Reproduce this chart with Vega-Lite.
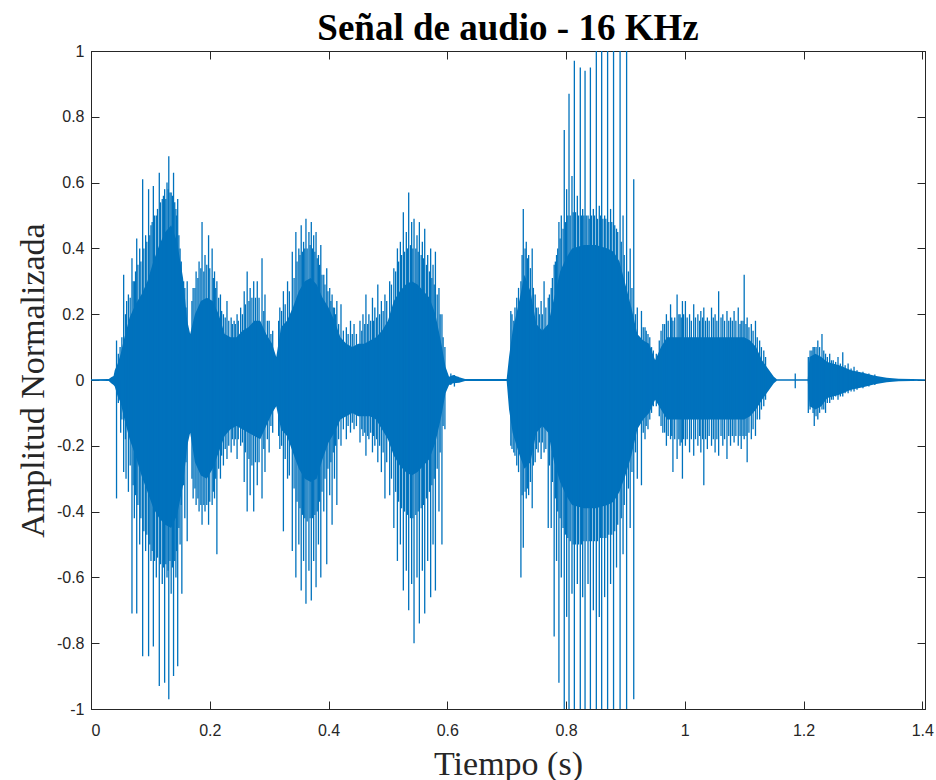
{
  "$schema": "https://vega.github.io/schema/vega-lite/v6.json",
  "width": 834,
  "height": 658,
  "autosize": {"type": "none"},
  "padding": {"left": 91, "top": 51, "right": 11, "bottom": 71},
  "background": "white",
  "title": {
    "text": "Señal de audio - 16 KHz",
    "font": "Liberation Serif",
    "fontSize": 37,
    "fontWeight": "bold",
    "color": "#000000",
    "anchor": "middle",
    "offset": -5
  },
  "config": {
    "view": {"stroke": "#262626", "strokeWidth": 1},
    "axis": {
      "grid": false,
      "domainColor": "#262626",
      "tickColor": "#262626",
      "labelColor": "#262626",
      "labelFont": "Liberation Sans",
      "labelFontSize": 16,
      "titleFont": "Liberation Serif",
      "titleFontSize": 34,
      "titleFontWeight": "normal",
      "titleColor": "#262626",
      "tickSize": -8
    }
  },
  "datasets": {
    "core": [
      {"t": 0, "lo": -0.002, "hi": 0.002},
      {"t": 0.03, "lo": -0.003, "hi": 0.003},
      {"t": 0.034, "lo": -0.01, "hi": 0.008},
      {"t": 0.038, "lo": -0.015, "hi": 0.012},
      {"t": 0.04, "lo": -0.02, "hi": 0.03},
      {"t": 0.045, "lo": -0.05, "hi": 0.05},
      {"t": 0.05, "lo": -0.07, "hi": 0.08},
      {"t": 0.055, "lo": -0.11, "hi": 0.12},
      {"t": 0.065, "lo": -0.18, "hi": 0.19},
      {"t": 0.075, "lo": -0.23, "hi": 0.23},
      {"t": 0.085, "lo": -0.29, "hi": 0.26},
      {"t": 0.095, "lo": -0.34, "hi": 0.3},
      {"t": 0.105, "lo": -0.39, "hi": 0.36},
      {"t": 0.115, "lo": -0.42, "hi": 0.41},
      {"t": 0.125, "lo": -0.44, "hi": 0.45},
      {"t": 0.135, "lo": -0.45, "hi": 0.47},
      {"t": 0.145, "lo": -0.41, "hi": 0.42},
      {"t": 0.155, "lo": -0.32, "hi": 0.31},
      {"t": 0.162, "lo": -0.2, "hi": 0.18},
      {"t": 0.167, "lo": -0.16, "hi": 0.14},
      {"t": 0.175, "lo": -0.25, "hi": 0.2},
      {"t": 0.185, "lo": -0.29, "hi": 0.24},
      {"t": 0.195, "lo": -0.3, "hi": 0.25},
      {"t": 0.205, "lo": -0.27, "hi": 0.24},
      {"t": 0.215, "lo": -0.22, "hi": 0.2},
      {"t": 0.225, "lo": -0.17, "hi": 0.14},
      {"t": 0.235, "lo": -0.15, "hi": 0.13},
      {"t": 0.245, "lo": -0.14, "hi": 0.13},
      {"t": 0.255, "lo": -0.15, "hi": 0.15},
      {"t": 0.265, "lo": -0.16, "hi": 0.16},
      {"t": 0.275, "lo": -0.17, "hi": 0.18},
      {"t": 0.285, "lo": -0.18, "hi": 0.18},
      {"t": 0.295, "lo": -0.14, "hi": 0.14},
      {"t": 0.305, "lo": -0.1, "hi": 0.11},
      {"t": 0.312, "lo": -0.08, "hi": 0.07},
      {"t": 0.32, "lo": -0.15, "hi": 0.16},
      {"t": 0.33, "lo": -0.17, "hi": 0.18},
      {"t": 0.34, "lo": -0.22, "hi": 0.22},
      {"t": 0.35, "lo": -0.27, "hi": 0.27},
      {"t": 0.36, "lo": -0.3, "hi": 0.3},
      {"t": 0.37, "lo": -0.31, "hi": 0.31},
      {"t": 0.38, "lo": -0.3, "hi": 0.29},
      {"t": 0.39, "lo": -0.24, "hi": 0.25},
      {"t": 0.4, "lo": -0.19, "hi": 0.22},
      {"t": 0.41, "lo": -0.16, "hi": 0.18},
      {"t": 0.42, "lo": -0.12, "hi": 0.13},
      {"t": 0.43, "lo": -0.11, "hi": 0.11},
      {"t": 0.44, "lo": -0.1, "hi": 0.1},
      {"t": 0.45, "lo": -0.11, "hi": 0.11},
      {"t": 0.46, "lo": -0.11, "hi": 0.11},
      {"t": 0.47, "lo": -0.11, "hi": 0.12},
      {"t": 0.48, "lo": -0.12, "hi": 0.13},
      {"t": 0.49, "lo": -0.15, "hi": 0.15},
      {"t": 0.5, "lo": -0.18, "hi": 0.18},
      {"t": 0.51, "lo": -0.23, "hi": 0.24},
      {"t": 0.52, "lo": -0.26, "hi": 0.27},
      {"t": 0.53, "lo": -0.28, "hi": 0.29},
      {"t": 0.54, "lo": -0.29, "hi": 0.3},
      {"t": 0.55, "lo": -0.28, "hi": 0.29},
      {"t": 0.56, "lo": -0.26, "hi": 0.27},
      {"t": 0.57, "lo": -0.24, "hi": 0.25},
      {"t": 0.58, "lo": -0.19, "hi": 0.2},
      {"t": 0.59, "lo": -0.11, "hi": 0.11},
      {"t": 0.597, "lo": -0.04, "hi": 0.04},
      {"t": 0.603, "lo": -0.015, "hi": 0.01},
      {"t": 0.61, "lo": -0.01, "hi": 0.015},
      {"t": 0.62, "lo": -0.008, "hi": 0.008},
      {"t": 0.63, "lo": -0.003, "hi": 0.003},
      {"t": 0.7, "lo": -0.003, "hi": 0.003},
      {"t": 0.704, "lo": -0.09, "hi": 0.07},
      {"t": 0.71, "lo": -0.16, "hi": 0.15},
      {"t": 0.72, "lo": -0.22, "hi": 0.23},
      {"t": 0.73, "lo": -0.27, "hi": 0.32},
      {"t": 0.74, "lo": -0.25, "hi": 0.27},
      {"t": 0.75, "lo": -0.16, "hi": 0.17},
      {"t": 0.76, "lo": -0.14, "hi": 0.15},
      {"t": 0.77, "lo": -0.16, "hi": 0.17},
      {"t": 0.78, "lo": -0.25, "hi": 0.25},
      {"t": 0.79, "lo": -0.31, "hi": 0.33},
      {"t": 0.8, "lo": -0.35, "hi": 0.37},
      {"t": 0.81, "lo": -0.38, "hi": 0.4},
      {"t": 0.83, "lo": -0.39, "hi": 0.41},
      {"t": 0.85, "lo": -0.39, "hi": 0.41},
      {"t": 0.87, "lo": -0.38, "hi": 0.4},
      {"t": 0.88, "lo": -0.37, "hi": 0.39},
      {"t": 0.89, "lo": -0.34, "hi": 0.36},
      {"t": 0.9, "lo": -0.29, "hi": 0.29},
      {"t": 0.91, "lo": -0.23, "hi": 0.22},
      {"t": 0.92, "lo": -0.15, "hi": 0.14},
      {"t": 0.93, "lo": -0.12, "hi": 0.12},
      {"t": 0.94, "lo": -0.1, "hi": 0.11},
      {"t": 0.95, "lo": -0.06, "hi": 0.06},
      {"t": 0.96, "lo": -0.09, "hi": 0.1},
      {"t": 0.97, "lo": -0.12, "hi": 0.13},
      {"t": 1.0, "lo": -0.12, "hi": 0.13},
      {"t": 1.04, "lo": -0.12, "hi": 0.13},
      {"t": 1.08, "lo": -0.12, "hi": 0.13},
      {"t": 1.1, "lo": -0.12, "hi": 0.13},
      {"t": 1.11, "lo": -0.11, "hi": 0.12},
      {"t": 1.12, "lo": -0.09, "hi": 0.1},
      {"t": 1.13, "lo": -0.06, "hi": 0.06},
      {"t": 1.14, "lo": -0.035, "hi": 0.035},
      {"t": 1.15, "lo": -0.01, "hi": 0.01},
      {"t": 1.155, "lo": -0.002, "hi": 0.002},
      {"t": 1.207, "lo": -0.002, "hi": 0.002},
      {"t": 1.21, "lo": -0.08, "hi": 0.07},
      {"t": 1.22, "lo": -0.09, "hi": 0.08},
      {"t": 1.23, "lo": -0.08, "hi": 0.07},
      {"t": 1.24, "lo": -0.055, "hi": 0.055},
      {"t": 1.26, "lo": -0.045, "hi": 0.045},
      {"t": 1.28, "lo": -0.03, "hi": 0.03},
      {"t": 1.3, "lo": -0.022, "hi": 0.022},
      {"t": 1.32, "lo": -0.013, "hi": 0.013},
      {"t": 1.34, "lo": -0.007, "hi": 0.007},
      {"t": 1.36, "lo": -0.004, "hi": 0.004},
      {"t": 1.4045, "lo": -0.002, "hi": 0.002}
    ],
    "spikes": [
      {"t": 0.043, "v": 0.12}, {"t": 0.043, "v": -0.36},
      {"t": 0.049, "v": 0.1}, {"t": 0.05, "v": -0.16},
      {"t": 0.055, "v": 0.32}, {"t": 0.055, "v": -0.28},
      {"t": 0.06, "v": 0.24}, {"t": 0.059, "v": -0.3},
      {"t": 0.063, "v": 0.26}, {"t": 0.063, "v": -0.34},
      {"t": 0.069, "v": 0.37}, {"t": 0.069, "v": -0.71},
      {"t": 0.073, "v": 0.3}, {"t": 0.073, "v": -0.42},
      {"t": 0.077, "v": 0.43}, {"t": 0.077, "v": -0.71},
      {"t": 0.082, "v": 0.4}, {"t": 0.082, "v": -0.5},
      {"t": 0.087, "v": 0.61}, {"t": 0.087, "v": -0.84},
      {"t": 0.092, "v": 0.44}, {"t": 0.092, "v": -0.52},
      {"t": 0.097, "v": 0.58}, {"t": 0.097, "v": -0.84},
      {"t": 0.101, "v": 0.47}, {"t": 0.101, "v": -0.55},
      {"t": 0.105, "v": 0.59}, {"t": 0.105, "v": -0.81},
      {"t": 0.11, "v": 0.5}, {"t": 0.11, "v": -0.6},
      {"t": 0.115, "v": 0.63}, {"t": 0.115, "v": -0.93},
      {"t": 0.12, "v": 0.55}, {"t": 0.12, "v": -0.62},
      {"t": 0.124, "v": 0.58}, {"t": 0.124, "v": -0.92},
      {"t": 0.128, "v": 0.6}, {"t": 0.128, "v": -0.6},
      {"t": 0.131, "v": 0.68}, {"t": 0.131, "v": -0.97},
      {"t": 0.135, "v": 0.57}, {"t": 0.135, "v": -0.65},
      {"t": 0.139, "v": 0.63}, {"t": 0.139, "v": -0.9},
      {"t": 0.143, "v": 0.52}, {"t": 0.143, "v": -0.6},
      {"t": 0.146, "v": 0.55}, {"t": 0.146, "v": -0.87},
      {"t": 0.15, "v": 0.4}, {"t": 0.15, "v": -0.5},
      {"t": 0.153, "v": 0.3}, {"t": 0.153, "v": -0.65},
      {"t": 0.158, "v": 0.28}, {"t": 0.158, "v": -0.42},
      {"t": 0.162, "v": 0.3}, {"t": 0.162, "v": -0.49},
      {"t": 0.172, "v": 0.28}, {"t": 0.172, "v": -0.36},
      {"t": 0.177, "v": 0.33}, {"t": 0.177, "v": -0.38},
      {"t": 0.182, "v": 0.36}, {"t": 0.182, "v": -0.4},
      {"t": 0.187, "v": 0.48}, {"t": 0.187, "v": -0.44},
      {"t": 0.192, "v": 0.38}, {"t": 0.192, "v": -0.4},
      {"t": 0.198, "v": 0.44}, {"t": 0.198, "v": -0.44},
      {"t": 0.204, "v": 0.4}, {"t": 0.204, "v": -0.38},
      {"t": 0.208, "v": 0.33}, {"t": 0.208, "v": -0.36},
      {"t": 0.212, "v": 0.3}, {"t": 0.212, "v": -0.53},
      {"t": 0.218, "v": 0.26}, {"t": 0.218, "v": -0.3},
      {"t": 0.223, "v": 0.2}, {"t": 0.223, "v": -0.26},
      {"t": 0.229, "v": 0.24}, {"t": 0.229, "v": -0.24},
      {"t": 0.236, "v": 0.19}, {"t": 0.236, "v": -0.22},
      {"t": 0.241, "v": 0.18}, {"t": 0.241, "v": -0.2},
      {"t": 0.246, "v": 0.2}, {"t": 0.246, "v": -0.24},
      {"t": 0.252, "v": 0.22}, {"t": 0.252, "v": -0.2},
      {"t": 0.258, "v": 0.27}, {"t": 0.258, "v": -0.31},
      {"t": 0.263, "v": 0.33}, {"t": 0.263, "v": -0.4},
      {"t": 0.268, "v": 0.28}, {"t": 0.268, "v": -0.35},
      {"t": 0.274, "v": 0.3}, {"t": 0.274, "v": -0.4},
      {"t": 0.28, "v": 0.3}, {"t": 0.28, "v": -0.32},
      {"t": 0.288, "v": 0.37}, {"t": 0.288, "v": -0.36},
      {"t": 0.293, "v": 0.26}, {"t": 0.293, "v": -0.28},
      {"t": 0.3, "v": 0.18}, {"t": 0.3, "v": -0.22},
      {"t": 0.306, "v": 0.15}, {"t": 0.306, "v": -0.16},
      {"t": 0.318, "v": 0.22}, {"t": 0.318, "v": -0.21},
      {"t": 0.324, "v": 0.27}, {"t": 0.324, "v": -0.46},
      {"t": 0.331, "v": 0.3}, {"t": 0.331, "v": -0.3},
      {"t": 0.339, "v": 0.39}, {"t": 0.339, "v": -0.52},
      {"t": 0.345, "v": 0.45}, {"t": 0.345, "v": -0.6},
      {"t": 0.35, "v": 0.4}, {"t": 0.35, "v": -0.5},
      {"t": 0.354, "v": 0.47}, {"t": 0.354, "v": -0.64},
      {"t": 0.358, "v": 0.42}, {"t": 0.358, "v": -0.55},
      {"t": 0.362, "v": 0.49}, {"t": 0.362, "v": -0.68},
      {"t": 0.367, "v": 0.45}, {"t": 0.367, "v": -0.58},
      {"t": 0.371, "v": 0.48}, {"t": 0.371, "v": -0.67},
      {"t": 0.375, "v": 0.44}, {"t": 0.375, "v": -0.55},
      {"t": 0.379, "v": 0.45}, {"t": 0.379, "v": -0.63},
      {"t": 0.383, "v": 0.38}, {"t": 0.383, "v": -0.5},
      {"t": 0.387, "v": 0.41}, {"t": 0.387, "v": -0.6},
      {"t": 0.392, "v": 0.32}, {"t": 0.392, "v": -0.4},
      {"t": 0.397, "v": 0.34}, {"t": 0.397, "v": -0.56},
      {"t": 0.402, "v": 0.28}, {"t": 0.402, "v": -0.35},
      {"t": 0.406, "v": 0.26}, {"t": 0.406, "v": -0.44},
      {"t": 0.41, "v": 0.22}, {"t": 0.41, "v": -0.3},
      {"t": 0.414, "v": 0.24}, {"t": 0.414, "v": -0.38},
      {"t": 0.421, "v": 0.23}, {"t": 0.421, "v": -0.2},
      {"t": 0.43, "v": 0.16}, {"t": 0.43, "v": -0.18},
      {"t": 0.437, "v": 0.18}, {"t": 0.437, "v": -0.16},
      {"t": 0.443, "v": 0.17}, {"t": 0.443, "v": -0.15},
      {"t": 0.453, "v": 0.18}, {"t": 0.453, "v": -0.19},
      {"t": 0.458, "v": 0.2}, {"t": 0.458, "v": -0.17},
      {"t": 0.463, "v": 0.26}, {"t": 0.463, "v": -0.23},
      {"t": 0.468, "v": 0.2}, {"t": 0.468, "v": -0.18},
      {"t": 0.474, "v": 0.25}, {"t": 0.474, "v": -0.22},
      {"t": 0.478, "v": 0.22}, {"t": 0.478, "v": -0.2},
      {"t": 0.483, "v": 0.29}, {"t": 0.483, "v": -0.25},
      {"t": 0.489, "v": 0.24}, {"t": 0.489, "v": -0.28},
      {"t": 0.495, "v": 0.26}, {"t": 0.495, "v": -0.36},
      {"t": 0.503, "v": 0.3}, {"t": 0.503, "v": -0.35},
      {"t": 0.51, "v": 0.34}, {"t": 0.51, "v": -0.45},
      {"t": 0.516, "v": 0.4}, {"t": 0.516, "v": -0.55},
      {"t": 0.521, "v": 0.42}, {"t": 0.521, "v": -0.5},
      {"t": 0.526, "v": 0.51}, {"t": 0.526, "v": -0.64},
      {"t": 0.531, "v": 0.45}, {"t": 0.531, "v": -0.58},
      {"t": 0.535, "v": 0.57}, {"t": 0.535, "v": -0.7},
      {"t": 0.54, "v": 0.48}, {"t": 0.54, "v": -0.62},
      {"t": 0.544, "v": 0.49}, {"t": 0.544, "v": -0.8},
      {"t": 0.549, "v": 0.44}, {"t": 0.549, "v": -0.6},
      {"t": 0.553, "v": 0.48}, {"t": 0.553, "v": -0.74},
      {"t": 0.558, "v": 0.42}, {"t": 0.558, "v": -0.58},
      {"t": 0.562, "v": 0.46}, {"t": 0.562, "v": -0.71},
      {"t": 0.567, "v": 0.38}, {"t": 0.567, "v": -0.55},
      {"t": 0.572, "v": 0.4}, {"t": 0.572, "v": -0.66},
      {"t": 0.576, "v": 0.35}, {"t": 0.576, "v": -0.5},
      {"t": 0.58, "v": 0.39}, {"t": 0.58, "v": -0.64},
      {"t": 0.586, "v": 0.28}, {"t": 0.586, "v": -0.4},
      {"t": 0.591, "v": 0.2}, {"t": 0.591, "v": -0.5},
      {"t": 0.596, "v": 0.1}, {"t": 0.596, "v": -0.15},
      {"t": 0.606, "v": 0.02}, {"t": 0.606, "v": -0.015},
      {"t": 0.612, "v": 0.015}, {"t": 0.612, "v": -0.02},
      {"t": 0.618, "v": 0.01},
      {"t": 0.707, "v": 0.21}, {"t": 0.707, "v": -0.2},
      {"t": 0.712, "v": 0.18}, {"t": 0.712, "v": -0.22},
      {"t": 0.717, "v": 0.25}, {"t": 0.717, "v": -0.26},
      {"t": 0.724, "v": 0.3}, {"t": 0.724, "v": -0.6},
      {"t": 0.728, "v": 0.52}, {"t": 0.728, "v": -0.51},
      {"t": 0.733, "v": 0.42}, {"t": 0.733, "v": -0.36},
      {"t": 0.737, "v": 0.38}, {"t": 0.737, "v": -0.35},
      {"t": 0.743, "v": 0.4}, {"t": 0.743, "v": -0.39},
      {"t": 0.748, "v": 0.26}, {"t": 0.748, "v": -0.25},
      {"t": 0.753, "v": 0.22}, {"t": 0.753, "v": -0.22},
      {"t": 0.758, "v": 0.24}, {"t": 0.758, "v": -0.24},
      {"t": 0.763, "v": 0.3}, {"t": 0.763, "v": -0.22},
      {"t": 0.77, "v": 0.25}, {"t": 0.77, "v": -0.45},
      {"t": 0.775, "v": 0.28}, {"t": 0.775, "v": -0.45},
      {"t": 0.78, "v": 0.35}, {"t": 0.78, "v": -0.78},
      {"t": 0.784, "v": 0.38}, {"t": 0.784, "v": -0.55},
      {"t": 0.788, "v": 0.48}, {"t": 0.788, "v": -0.92},
      {"t": 0.792, "v": 0.5}, {"t": 0.792, "v": -0.6},
      {"t": 0.797, "v": 0.76}, {"t": 0.797, "v": -1},
      {"t": 0.801, "v": 0.58}, {"t": 0.801, "v": -0.72},
      {"t": 0.805, "v": 0.87}, {"t": 0.805, "v": -1},
      {"t": 0.81, "v": 0.62}, {"t": 0.81, "v": -0.65},
      {"t": 0.814, "v": 0.97}, {"t": 0.814, "v": -1},
      {"t": 0.819, "v": 0.56}, {"t": 0.819, "v": -0.62},
      {"t": 0.824, "v": 0.95}, {"t": 0.824, "v": -1},
      {"t": 0.828, "v": 0.52}, {"t": 0.828, "v": -0.66},
      {"t": 0.832, "v": 0.94}, {"t": 0.832, "v": -1},
      {"t": 0.837, "v": 0.5}, {"t": 0.837, "v": -0.62},
      {"t": 0.841, "v": 0.95}, {"t": 0.841, "v": -1},
      {"t": 0.846, "v": 0.52}, {"t": 0.846, "v": -0.7},
      {"t": 0.851, "v": 1}, {"t": 0.851, "v": -1},
      {"t": 0.856, "v": 0.53}, {"t": 0.856, "v": -0.72},
      {"t": 0.86, "v": 1}, {"t": 0.86, "v": -1},
      {"t": 0.865, "v": 0.5}, {"t": 0.865, "v": -0.66},
      {"t": 0.87, "v": 1}, {"t": 0.87, "v": -1},
      {"t": 0.875, "v": 0.52}, {"t": 0.875, "v": -0.62},
      {"t": 0.88, "v": 1}, {"t": 0.88, "v": -1},
      {"t": 0.885, "v": 0.46}, {"t": 0.885, "v": -0.57},
      {"t": 0.891, "v": 1}, {"t": 0.891, "v": -1},
      {"t": 0.896, "v": 0.5}, {"t": 0.896, "v": -0.53},
      {"t": 0.902, "v": 1}, {"t": 0.902, "v": -1},
      {"t": 0.908, "v": 0.4}, {"t": 0.908, "v": -0.45},
      {"t": 0.914, "v": 0.61}, {"t": 0.914, "v": -0.97},
      {"t": 0.92, "v": 0.22}, {"t": 0.92, "v": -0.3},
      {"t": 0.927, "v": 0.21}, {"t": 0.927, "v": -0.32},
      {"t": 0.933, "v": 0.16}, {"t": 0.933, "v": -0.18},
      {"t": 0.938, "v": 0.14}, {"t": 0.938, "v": -0.15},
      {"t": 0.944, "v": 0.1}, {"t": 0.944, "v": -0.1},
      {"t": 0.963, "v": 0.17}, {"t": 0.963, "v": -0.16},
      {"t": 0.969, "v": 0.2}, {"t": 0.969, "v": -0.2},
      {"t": 0.976, "v": 0.23}, {"t": 0.976, "v": -0.18},
      {"t": 0.98, "v": 0.18}, {"t": 0.98, "v": -0.28},
      {"t": 0.987, "v": 0.26}, {"t": 0.987, "v": -0.24},
      {"t": 0.992, "v": 0.2}, {"t": 0.992, "v": -0.2},
      {"t": 0.996, "v": 0.24}, {"t": 0.996, "v": -0.3},
      {"t": 1.001, "v": 0.24}, {"t": 1.001, "v": -0.2},
      {"t": 1.008, "v": 0.2}, {"t": 1.008, "v": -0.22},
      {"t": 1.015, "v": 0.23}, {"t": 1.015, "v": -0.23},
      {"t": 1.022, "v": 0.2}, {"t": 1.022, "v": -0.2},
      {"t": 1.027, "v": 0.21}, {"t": 1.027, "v": -0.22},
      {"t": 1.032, "v": 0.22}, {"t": 1.032, "v": -0.32},
      {"t": 1.038, "v": 0.19}, {"t": 1.038, "v": -0.21},
      {"t": 1.045, "v": 0.22}, {"t": 1.045, "v": -0.2},
      {"t": 1.051, "v": 0.2}, {"t": 1.051, "v": -0.22},
      {"t": 1.057, "v": 0.27}, {"t": 1.057, "v": -0.23},
      {"t": 1.064, "v": 0.2}, {"t": 1.064, "v": -0.2},
      {"t": 1.071, "v": 0.21}, {"t": 1.071, "v": -0.24},
      {"t": 1.077, "v": 0.19}, {"t": 1.077, "v": -0.2},
      {"t": 1.083, "v": 0.21}, {"t": 1.083, "v": -0.19},
      {"t": 1.09, "v": 0.22}, {"t": 1.09, "v": -0.2},
      {"t": 1.095, "v": 0.18}, {"t": 1.095, "v": -0.21},
      {"t": 1.1, "v": 0.32}, {"t": 1.1, "v": -0.18},
      {"t": 1.105, "v": 0.19}, {"t": 1.105, "v": -0.25},
      {"t": 1.112, "v": 0.17}, {"t": 1.112, "v": -0.18},
      {"t": 1.119, "v": 0.18}, {"t": 1.119, "v": -0.17},
      {"t": 1.126, "v": 0.12}, {"t": 1.126, "v": -0.12},
      {"t": 1.133, "v": 0.09}, {"t": 1.133, "v": -0.08},
      {"t": 1.186, "v": 0.02}, {"t": 1.186, "v": -0.025},
      {"t": 1.208, "v": 0.07}, {"t": 1.208, "v": -0.1},
      {"t": 1.214, "v": 0.09}, {"t": 1.214, "v": -0.08},
      {"t": 1.218, "v": 0.1}, {"t": 1.218, "v": -0.14},
      {"t": 1.224, "v": 0.12}, {"t": 1.224, "v": -0.12},
      {"t": 1.231, "v": 0.14}, {"t": 1.231, "v": -0.09},
      {"t": 1.237, "v": 0.08}, {"t": 1.237, "v": -0.1},
      {"t": 1.244, "v": 0.08}, {"t": 1.244, "v": -0.07},
      {"t": 1.25, "v": 0.06}, {"t": 1.25, "v": -0.06},
      {"t": 1.258, "v": 0.07}, {"t": 1.258, "v": -0.06},
      {"t": 1.266, "v": 0.084}, {"t": 1.266, "v": -0.05},
      {"t": 1.275, "v": 0.05}, {"t": 1.275, "v": -0.04},
      {"t": 1.285, "v": 0.04}, {"t": 1.285, "v": -0.035},
      {"t": 0.046, "v": 0.08}, {"t": 0.046, "v": -0.07},
      {"t": 0.052, "v": 0.13}, {"t": 0.052, "v": -0.12},
      {"t": 0.058, "v": 0.2}, {"t": 0.058, "v": -0.18},
      {"t": 0.066, "v": 0.25}, {"t": 0.066, "v": -0.26},
      {"t": 0.071, "v": 0.3}, {"t": 0.071, "v": -0.32},
      {"t": 0.075, "v": 0.33}, {"t": 0.075, "v": -0.35},
      {"t": 0.079, "v": 0.35}, {"t": 0.079, "v": -0.38},
      {"t": 0.084, "v": 0.36}, {"t": 0.084, "v": -0.42},
      {"t": 0.089, "v": 0.4}, {"t": 0.089, "v": -0.46},
      {"t": 0.094, "v": 0.42}, {"t": 0.094, "v": -0.47},
      {"t": 0.099, "v": 0.44}, {"t": 0.099, "v": -0.5},
      {"t": 0.103, "v": 0.48}, {"t": 0.103, "v": -0.52},
      {"t": 0.107, "v": 0.5}, {"t": 0.107, "v": -0.55},
      {"t": 0.112, "v": 0.52}, {"t": 0.112, "v": -0.54},
      {"t": 0.117, "v": 0.54}, {"t": 0.117, "v": -0.56},
      {"t": 0.122, "v": 0.56}, {"t": 0.122, "v": -0.57},
      {"t": 0.126, "v": 0.55}, {"t": 0.126, "v": -0.56},
      {"t": 0.13, "v": 0.58}, {"t": 0.13, "v": -0.58},
      {"t": 0.133, "v": 0.57}, {"t": 0.133, "v": -0.55},
      {"t": 0.137, "v": 0.56}, {"t": 0.137, "v": -0.57},
      {"t": 0.141, "v": 0.54}, {"t": 0.141, "v": -0.55},
      {"t": 0.144, "v": 0.5}, {"t": 0.144, "v": -0.52},
      {"t": 0.148, "v": 0.44}, {"t": 0.148, "v": -0.45},
      {"t": 0.152, "v": 0.36}, {"t": 0.152, "v": -0.38},
      {"t": 0.156, "v": 0.3}, {"t": 0.156, "v": -0.32},
      {"t": 0.16, "v": 0.22}, {"t": 0.16, "v": -0.25},
      {"t": 0.17, "v": 0.24}, {"t": 0.17, "v": -0.3},
      {"t": 0.175, "v": 0.28}, {"t": 0.175, "v": -0.33},
      {"t": 0.18, "v": 0.31}, {"t": 0.18, "v": -0.36},
      {"t": 0.185, "v": 0.34}, {"t": 0.185, "v": -0.38},
      {"t": 0.19, "v": 0.33}, {"t": 0.19, "v": -0.38},
      {"t": 0.195, "v": 0.35}, {"t": 0.195, "v": -0.38},
      {"t": 0.2, "v": 0.34}, {"t": 0.2, "v": -0.37},
      {"t": 0.206, "v": 0.31}, {"t": 0.206, "v": -0.34},
      {"t": 0.21, "v": 0.28}, {"t": 0.21, "v": -0.3},
      {"t": 0.215, "v": 0.25}, {"t": 0.215, "v": -0.27},
      {"t": 0.22, "v": 0.21}, {"t": 0.22, "v": -0.23},
      {"t": 0.226, "v": 0.19}, {"t": 0.226, "v": -0.21},
      {"t": 0.232, "v": 0.18}, {"t": 0.232, "v": -0.2},
      {"t": 0.238, "v": 0.17}, {"t": 0.238, "v": -0.18},
      {"t": 0.243, "v": 0.17}, {"t": 0.243, "v": -0.18},
      {"t": 0.248, "v": 0.18}, {"t": 0.248, "v": -0.18},
      {"t": 0.255, "v": 0.2}, {"t": 0.255, "v": -0.19},
      {"t": 0.26, "v": 0.23}, {"t": 0.26, "v": -0.22},
      {"t": 0.266, "v": 0.24}, {"t": 0.266, "v": -0.24},
      {"t": 0.271, "v": 0.25}, {"t": 0.271, "v": -0.26},
      {"t": 0.277, "v": 0.25}, {"t": 0.277, "v": -0.25},
      {"t": 0.283, "v": 0.25}, {"t": 0.283, "v": -0.25},
      {"t": 0.291, "v": 0.21}, {"t": 0.291, "v": -0.21},
      {"t": 0.297, "v": 0.18}, {"t": 0.297, "v": -0.18},
      {"t": 0.303, "v": 0.14}, {"t": 0.303, "v": -0.14},
      {"t": 0.316, "v": 0.18}, {"t": 0.316, "v": -0.17},
      {"t": 0.321, "v": 0.21}, {"t": 0.321, "v": -0.2},
      {"t": 0.327, "v": 0.23}, {"t": 0.327, "v": -0.24},
      {"t": 0.334, "v": 0.27}, {"t": 0.334, "v": -0.29},
      {"t": 0.342, "v": 0.31}, {"t": 0.342, "v": -0.33},
      {"t": 0.347, "v": 0.36}, {"t": 0.347, "v": -0.37},
      {"t": 0.352, "v": 0.38}, {"t": 0.352, "v": -0.39},
      {"t": 0.356, "v": 0.39}, {"t": 0.356, "v": -0.41},
      {"t": 0.36, "v": 0.4}, {"t": 0.36, "v": -0.42},
      {"t": 0.364, "v": 0.4}, {"t": 0.364, "v": -0.43},
      {"t": 0.369, "v": 0.41}, {"t": 0.369, "v": -0.42},
      {"t": 0.373, "v": 0.4}, {"t": 0.373, "v": -0.42},
      {"t": 0.377, "v": 0.39}, {"t": 0.377, "v": -0.41},
      {"t": 0.381, "v": 0.37}, {"t": 0.381, "v": -0.4},
      {"t": 0.385, "v": 0.35}, {"t": 0.385, "v": -0.37},
      {"t": 0.389, "v": 0.32}, {"t": 0.389, "v": -0.34},
      {"t": 0.394, "v": 0.29}, {"t": 0.394, "v": -0.3},
      {"t": 0.399, "v": 0.27}, {"t": 0.399, "v": -0.27},
      {"t": 0.404, "v": 0.24}, {"t": 0.404, "v": -0.25},
      {"t": 0.408, "v": 0.22}, {"t": 0.408, "v": -0.22},
      {"t": 0.412, "v": 0.2}, {"t": 0.412, "v": -0.2},
      {"t": 0.417, "v": 0.17}, {"t": 0.417, "v": -0.18},
      {"t": 0.425, "v": 0.15}, {"t": 0.425, "v": -0.15},
      {"t": 0.433, "v": 0.14}, {"t": 0.433, "v": -0.14},
      {"t": 0.44, "v": 0.14}, {"t": 0.44, "v": -0.13},
      {"t": 0.447, "v": 0.14}, {"t": 0.447, "v": -0.14},
      {"t": 0.456, "v": 0.15}, {"t": 0.456, "v": -0.15},
      {"t": 0.461, "v": 0.17}, {"t": 0.461, "v": -0.16},
      {"t": 0.466, "v": 0.17}, {"t": 0.466, "v": -0.17},
      {"t": 0.471, "v": 0.18}, {"t": 0.471, "v": -0.16},
      {"t": 0.476, "v": 0.18}, {"t": 0.476, "v": -0.17},
      {"t": 0.481, "v": 0.19}, {"t": 0.481, "v": -0.18},
      {"t": 0.486, "v": 0.2}, {"t": 0.486, "v": -0.2},
      {"t": 0.492, "v": 0.21}, {"t": 0.492, "v": -0.22},
      {"t": 0.498, "v": 0.24}, {"t": 0.498, "v": -0.25},
      {"t": 0.506, "v": 0.29}, {"t": 0.506, "v": -0.3},
      {"t": 0.513, "v": 0.33}, {"t": 0.513, "v": -0.34},
      {"t": 0.518, "v": 0.36}, {"t": 0.518, "v": -0.37},
      {"t": 0.523, "v": 0.38}, {"t": 0.523, "v": -0.39},
      {"t": 0.528, "v": 0.39}, {"t": 0.528, "v": -0.4},
      {"t": 0.533, "v": 0.4}, {"t": 0.533, "v": -0.41},
      {"t": 0.538, "v": 0.41}, {"t": 0.538, "v": -0.42},
      {"t": 0.542, "v": 0.4}, {"t": 0.542, "v": -0.42},
      {"t": 0.547, "v": 0.4}, {"t": 0.547, "v": -0.41},
      {"t": 0.551, "v": 0.39}, {"t": 0.551, "v": -0.4},
      {"t": 0.556, "v": 0.38}, {"t": 0.556, "v": -0.39},
      {"t": 0.56, "v": 0.37}, {"t": 0.56, "v": -0.38},
      {"t": 0.565, "v": 0.35}, {"t": 0.565, "v": -0.36},
      {"t": 0.57, "v": 0.33}, {"t": 0.57, "v": -0.34},
      {"t": 0.574, "v": 0.31}, {"t": 0.574, "v": -0.32},
      {"t": 0.578, "v": 0.29}, {"t": 0.578, "v": -0.3},
      {"t": 0.583, "v": 0.26}, {"t": 0.583, "v": -0.27},
      {"t": 0.588, "v": 0.2}, {"t": 0.588, "v": -0.22},
      {"t": 0.593, "v": 0.13}, {"t": 0.593, "v": -0.14},
      {"t": 0.709, "v": 0.2}, {"t": 0.709, "v": -0.21},
      {"t": 0.714, "v": 0.22}, {"t": 0.714, "v": -0.23},
      {"t": 0.72, "v": 0.28}, {"t": 0.72, "v": -0.28},
      {"t": 0.726, "v": 0.38}, {"t": 0.726, "v": -0.35},
      {"t": 0.731, "v": 0.4}, {"t": 0.731, "v": -0.34},
      {"t": 0.735, "v": 0.37}, {"t": 0.735, "v": -0.33},
      {"t": 0.74, "v": 0.34}, {"t": 0.74, "v": -0.31},
      {"t": 0.745, "v": 0.28}, {"t": 0.745, "v": -0.26},
      {"t": 0.75, "v": 0.22}, {"t": 0.75, "v": -0.21},
      {"t": 0.755, "v": 0.2}, {"t": 0.755, "v": -0.19},
      {"t": 0.76, "v": 0.2}, {"t": 0.76, "v": -0.19},
      {"t": 0.766, "v": 0.22}, {"t": 0.766, "v": -0.21},
      {"t": 0.772, "v": 0.26}, {"t": 0.772, "v": -0.26},
      {"t": 0.777, "v": 0.31}, {"t": 0.777, "v": -0.31},
      {"t": 0.782, "v": 0.36}, {"t": 0.782, "v": -0.36},
      {"t": 0.786, "v": 0.4}, {"t": 0.786, "v": -0.4},
      {"t": 0.79, "v": 0.43}, {"t": 0.79, "v": -0.42},
      {"t": 0.795, "v": 0.46}, {"t": 0.795, "v": -0.45},
      {"t": 0.799, "v": 0.48}, {"t": 0.799, "v": -0.47},
      {"t": 0.803, "v": 0.5}, {"t": 0.803, "v": -0.48},
      {"t": 0.807, "v": 0.5}, {"t": 0.807, "v": -0.49},
      {"t": 0.812, "v": 0.51}, {"t": 0.812, "v": -0.5},
      {"t": 0.816, "v": 0.51}, {"t": 0.816, "v": -0.5},
      {"t": 0.821, "v": 0.5}, {"t": 0.821, "v": -0.5},
      {"t": 0.826, "v": 0.5}, {"t": 0.826, "v": -0.5},
      {"t": 0.83, "v": 0.5}, {"t": 0.83, "v": -0.49},
      {"t": 0.834, "v": 0.5}, {"t": 0.834, "v": -0.49},
      {"t": 0.839, "v": 0.49}, {"t": 0.839, "v": -0.49},
      {"t": 0.843, "v": 0.5}, {"t": 0.843, "v": -0.49},
      {"t": 0.848, "v": 0.5}, {"t": 0.848, "v": -0.49},
      {"t": 0.853, "v": 0.49}, {"t": 0.853, "v": -0.49},
      {"t": 0.858, "v": 0.5}, {"t": 0.858, "v": -0.48},
      {"t": 0.862, "v": 0.49}, {"t": 0.862, "v": -0.48},
      {"t": 0.867, "v": 0.49}, {"t": 0.867, "v": -0.48},
      {"t": 0.872, "v": 0.48}, {"t": 0.872, "v": -0.47},
      {"t": 0.877, "v": 0.48}, {"t": 0.877, "v": -0.47},
      {"t": 0.882, "v": 0.47}, {"t": 0.882, "v": -0.46},
      {"t": 0.887, "v": 0.45}, {"t": 0.887, "v": -0.44},
      {"t": 0.893, "v": 0.42}, {"t": 0.893, "v": -0.42},
      {"t": 0.898, "v": 0.38}, {"t": 0.898, "v": -0.38},
      {"t": 0.905, "v": 0.33}, {"t": 0.905, "v": -0.33},
      {"t": 0.911, "v": 0.28}, {"t": 0.911, "v": -0.28},
      {"t": 0.917, "v": 0.2}, {"t": 0.917, "v": -0.22},
      {"t": 0.93, "v": 0.16}, {"t": 0.93, "v": -0.16},
      {"t": 0.935, "v": 0.15}, {"t": 0.935, "v": -0.14},
      {"t": 0.941, "v": 0.13}, {"t": 0.941, "v": -0.12},
      {"t": 0.947, "v": 0.09}, {"t": 0.947, "v": -0.08},
      {"t": 0.952, "v": 0.08}, {"t": 0.952, "v": -0.08},
      {"t": 0.957, "v": 0.12}, {"t": 0.957, "v": -0.11},
      {"t": 0.96, "v": 0.15}, {"t": 0.96, "v": -0.14},
      {"t": 0.966, "v": 0.17}, {"t": 0.966, "v": -0.16},
      {"t": 0.972, "v": 0.18}, {"t": 0.972, "v": -0.17},
      {"t": 0.978, "v": 0.19}, {"t": 0.978, "v": -0.17},
      {"t": 0.983, "v": 0.19}, {"t": 0.983, "v": -0.18},
      {"t": 0.99, "v": 0.2}, {"t": 0.99, "v": -0.18},
      {"t": 0.994, "v": 0.19}, {"t": 0.994, "v": -0.19},
      {"t": 0.998, "v": 0.2}, {"t": 0.998, "v": -0.18},
      {"t": 1.004, "v": 0.19}, {"t": 1.004, "v": -0.18},
      {"t": 1.011, "v": 0.18}, {"t": 1.011, "v": -0.18},
      {"t": 1.018, "v": 0.19}, {"t": 1.018, "v": -0.18},
      {"t": 1.025, "v": 0.18}, {"t": 1.025, "v": -0.17},
      {"t": 1.03, "v": 0.19}, {"t": 1.03, "v": -0.18},
      {"t": 1.035, "v": 0.18}, {"t": 1.035, "v": -0.18},
      {"t": 1.041, "v": 0.18}, {"t": 1.041, "v": -0.17},
      {"t": 1.048, "v": 0.19}, {"t": 1.048, "v": -0.18},
      {"t": 1.054, "v": 0.18}, {"t": 1.054, "v": -0.18},
      {"t": 1.061, "v": 0.19}, {"t": 1.061, "v": -0.17},
      {"t": 1.067, "v": 0.18}, {"t": 1.067, "v": -0.18},
      {"t": 1.074, "v": 0.18}, {"t": 1.074, "v": -0.17},
      {"t": 1.08, "v": 0.18}, {"t": 1.08, "v": -0.17},
      {"t": 1.086, "v": 0.18}, {"t": 1.086, "v": -0.17},
      {"t": 1.093, "v": 0.17}, {"t": 1.093, "v": -0.17},
      {"t": 1.098, "v": 0.18}, {"t": 1.098, "v": -0.17},
      {"t": 1.103, "v": 0.17}, {"t": 1.103, "v": -0.17},
      {"t": 1.108, "v": 0.16}, {"t": 1.108, "v": -0.16},
      {"t": 1.115, "v": 0.15}, {"t": 1.115, "v": -0.15},
      {"t": 1.122, "v": 0.13}, {"t": 1.122, "v": -0.12},
      {"t": 1.129, "v": 0.1}, {"t": 1.129, "v": -0.09},
      {"t": 1.136, "v": 0.07}, {"t": 1.136, "v": -0.06},
      {"t": 1.211, "v": 0.09}, {"t": 1.211, "v": -0.09},
      {"t": 1.216, "v": 0.1}, {"t": 1.216, "v": -0.1},
      {"t": 1.221, "v": 0.1}, {"t": 1.221, "v": -0.11},
      {"t": 1.227, "v": 0.1}, {"t": 1.227, "v": -0.1},
      {"t": 1.234, "v": 0.09}, {"t": 1.234, "v": -0.09},
      {"t": 1.24, "v": 0.07}, {"t": 1.24, "v": -0.07},
      {"t": 1.247, "v": 0.06}, {"t": 1.247, "v": -0.06},
      {"t": 1.254, "v": 0.055}, {"t": 1.254, "v": -0.05},
      {"t": 1.262, "v": 0.05}, {"t": 1.262, "v": -0.05},
      {"t": 1.27, "v": 0.045}, {"t": 1.27, "v": -0.04},
      {"t": 1.28, "v": 0.035}, {"t": 1.28, "v": -0.035},
      {"t": 1.29, "v": 0.03}, {"t": 1.29, "v": -0.03},
      {"t": 1.3, "v": 0.025}, {"t": 1.3, "v": -0.025},
      {"t": 1.31, "v": 0.02}, {"t": 1.31, "v": -0.02},
      {"t": 1.32, "v": 0.017}, {"t": 1.32, "v": -0.015}
    ]
  },
  "layer": [
    {
      "data": {"name": "core"},
      "mark": {"type": "area", "color": "#0072BD", "clip": true},
      "encoding": {
        "x": {
          "field": "t", "type": "quantitative",
          "scale": {"domain": [0, 1.4045], "nice": false, "zero": false},
          "axis": {
            "orient": "bottom", "title": "Tiempo (s)",
            "values": [0, 0.2, 0.4, 0.6, 0.8, 1, 1.2, 1.4],
            "labelExpr": "'' + datum.value",
            "labelPadding": 21, "titlePadding": 9
          }
        },
        "y": {
          "field": "lo", "type": "quantitative",
          "scale": {"domain": [-1, 1], "nice": false},
          "axis": {
            "orient": "left", "title": "Amplitud Normalizada",
            "values": [-1, -0.8, -0.6, -0.4, -0.2, 0, 0.2, 0.4, 0.6, 0.8, 1],
            "labelExpr": "'' + datum.value",
            "labelPadding": 15, "titlePadding": 6
          }
        },
        "y2": {"field": "hi"}
      }
    },
    {
      "data": {"name": "spikes"},
      "mark": {"type": "rule", "color": "#0072BD", "strokeWidth": 1.3, "clip": true},
      "encoding": {
        "x": {
          "field": "t", "type": "quantitative",
          "axis": {
            "orient": "top", "title": null, "labels": false,
            "values": [0, 0.2, 0.4, 0.6, 0.8, 1, 1.2, 1.4]
          }
        },
        "y": {
          "field": "v", "type": "quantitative",
          "axis": {
            "orient": "right", "title": null, "labels": false,
            "values": [-1, -0.8, -0.6, -0.4, -0.2, 0, 0.2, 0.4, 0.6, 0.8, 1]
          }
        },
        "y2": {"datum": 0}
      }
    }
  ],
  "resolve": {"axis": {"x": "independent", "y": "independent"}}
}
